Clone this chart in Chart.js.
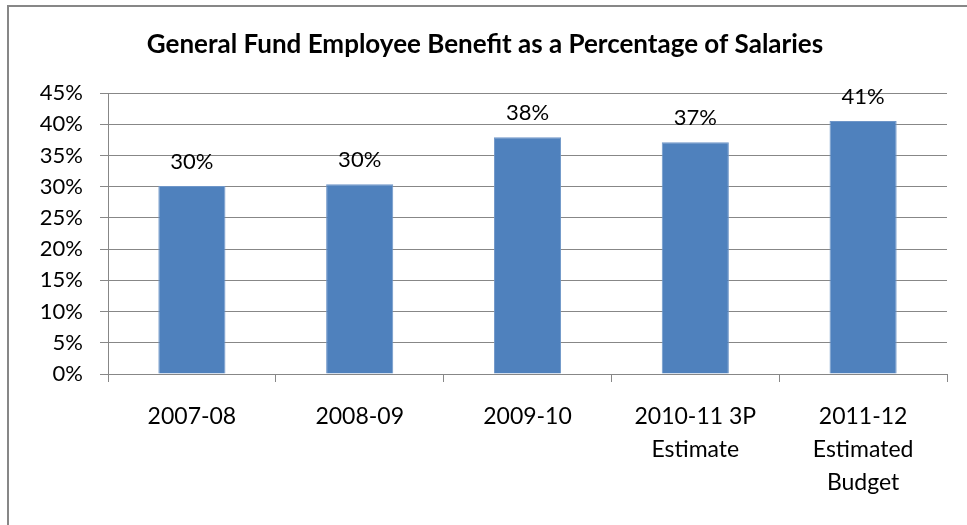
<!DOCTYPE html>
<html>
<head>
<meta charset="utf-8">
<script src="https://cdn.jsdelivr.net/npm/chart.js@4.4.0/dist/chart.umd.min.js"></script>
<style>
    body { margin: 0; background: #fff; }
    #wrap { position: relative; width: 967px; height: 525px; }
    #frame {
        position: absolute; left: 7px; top: 5px; right: 0; bottom: 0;
        border-left: 2px solid #878787; border-top: 2px solid #878787;
    }
    canvas { position: absolute; left: 0; top: 0; }
</style>
</head>
<body>
<div id="wrap">
    <div id="frame"></div>
    <canvas id="benefitChart"></canvas>
</div>
<script>
// Chart data
const categories = [
    '2007-08',
    '2008-09',
    '2009-10',
    ['2010-11 3P', 'Estimate'],
    ['2011-12', 'Estimated', 'Budget']
];
const benefitPct = [30.1, 30.4, 37.9, 37.1, 40.5];
const yTicks = [0, 5, 10, 15, 20, 25, 30, 35, 40, 45];

const FONT = 'Lato, "Open Sans", sans-serif';
const GRID = '#878787';

// Draws the rounded value above each bar
const valueLabels = {
    id: 'valueLabels',
    afterDatasetsDraw(chart) {
        const ctx = chart.ctx;
        const meta = chart.getDatasetMeta(0);
        ctx.save();
        ctx.font = '22px ' + FONT;
        ctx.fillStyle = '#000';
        ctx.textAlign = 'center';
        ctx.textBaseline = 'middle';
        meta.data.forEach((bar, i) => {
            ctx.fillText(Math.round(benefitPct[i]) + '%', bar.x, bar.y - 24);
        });
        ctx.restore();
    }
};

const ctx = document.getElementById('benefitChart').getContext('2d');
new Chart(ctx, {
    type: 'bar',
    data: {
        labels: categories,
        datasets: [{
            data: benefitPct,
            backgroundColor: '#4F81BD',
            borderColor: '#6F96C8',
            borderWidth: 1,
            categoryPercentage: 1,
            barPercentage: 0.4
        }]
    },
    options: {
        responsive: true,
        maintainAspectRatio: false,
        animation: false,
        layout: { padding: { left: 23, right: 20, top: 0, bottom: 0 } },
        plugins: {
            legend: { display: false },
            tooltip: { enabled: false },
            title: {
                display: true,
                text: 'General Fund Employee Benefit as a Percentage of Salaries',
                color: '#000',
                font: { family: FONT, size: 26, weight: 'bold', lineHeight: 1.2 },
                padding: { top: 29.4, bottom: 32.4 }
            }
        },
        scales: {
            x: {
                grid: {
                    drawOnChartArea: false,
                    drawTicks: true,
                    tickLength: 8,
                    color: GRID
                },
                border: { color: GRID, width: 1 },
                ticks: {
                    color: '#000',
                    font: { family: FONT, size: 23, lineHeight: 1.43 },
                    padding: 18,
                    maxRotation: 0
                },
                afterFit(scale) { scale.height = 151; }
            },
            y: {
                min: 0,
                max: 45,
                afterBuildTicks(scale) {
                    scale.ticks = yTicks.map(v => ({ value: v }));
                },
                grid: { color: GRID, tickLength: 8 },
                border: { color: GRID, width: 1 },
                ticks: {
                    color: '#000',
                    font: { family: FONT, size: 22 },
                    padding: 17,
                    callback: v => v + '%'
                },
                afterFit(scale) { scale.width = 85; }
            }
        }
    },
    plugins: [valueLabels]
});
</script>
</body>
</html>
